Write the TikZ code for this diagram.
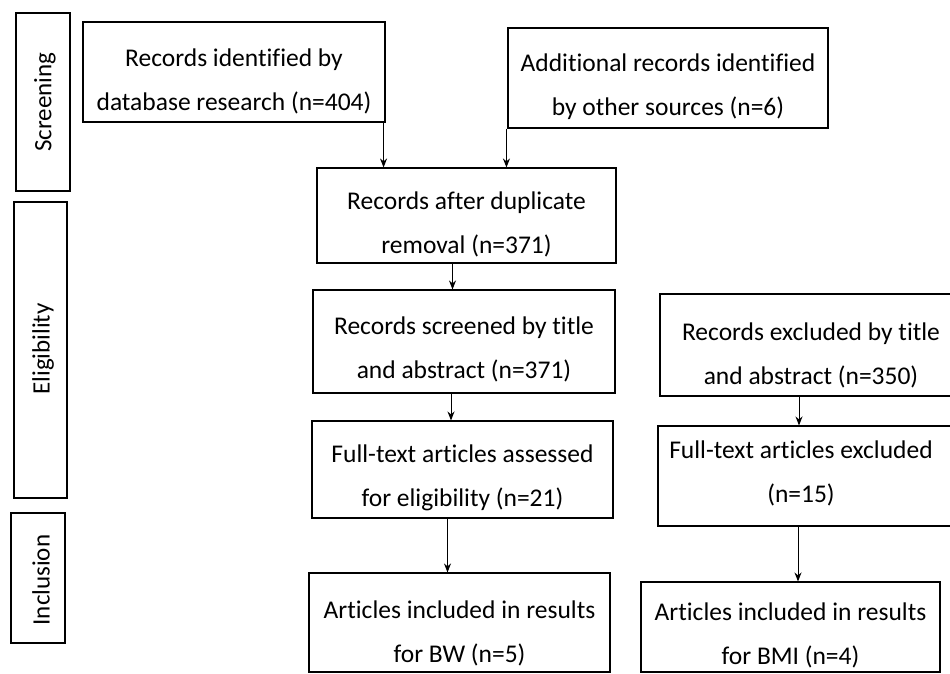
\documentclass[tikz,border=0pt]{standalone}
\usepackage{fontspec}
\setmainfont[Ligatures={NoCommon}]{Carlito}
\usetikzlibrary{arrows.meta}
\tikzset{
  box/.style={draw=black, line width=1.1pt, inner sep=0pt},
  tx/.style={inner sep=0pt, align=center, font=\fontsize{25.5}{44}\selectfont},
  side/.style={draw=black, line width=1.1pt, inner sep=0pt},
  sidetext/.style={rotate=90, inner sep=0pt, font=\fontsize{25}{28}\selectfont},
  arr/.style={line width=1pt, -{Stealth[length=9pt,width=7pt]}}
}
\begin{document}
\begin{tikzpicture}[x=1pt,y=-1pt]
\path[use as bounding box] (0,0) rectangle (950,674);
\clip (0,0) rectangle (950,674);
\fill[white] (0,0) rectangle (950,674);
% side boxes
\node[side, minimum width=54, minimum height=178] (s1) at (43,102) {};
\node[sidetext] (s1t) at (45,102) {Screening};
\node[side, minimum width=53, minimum height=296] (s2) at (40.5,350) {};
\node[sidetext] (s2t) at (43,349) {Eligibility};
\node[side, minimum width=54, minimum height=130] (s3) at (38,578) {};
\node[sidetext] (s3t) at (41,580) {Inclusion};
% main boxes
\node[box, minimum width=302, minimum height=100] (A) at (234,72) {};
\node[tx] (At) at (234,81.5) {Records identified by\\database research (n=404)};
\node[box, minimum width=320, minimum height=100] (B) at (668,78) {};
\node[tx] (Bt) at (668,86.5) {Additional records identified\\by other sources (n=6)};
\node[box, minimum width=299, minimum height=95] (C) at (466.5,215.5) {};
\node[tx] (Ct) at (466.5,224) {Records after duplicate\\removal (n=371)};
\node[box, minimum width=302, minimum height=103] (D) at (464,341.5) {};
\node[tx] (Dt) at (464,349) {Records screened by title\\and abstract (n=371)};
\node[box, minimum width=301, minimum height=97] (E) at (462.5,469.5) {};
\node[tx] (Et) at (462.5,478) {Full-text articles assessed\\for eligibility (n=21)};
\node[box, minimum width=301, minimum height=99] (F) at (459.5,622.5) {};
\node[tx] (Ft) at (459.5,633) {Articles included in results\\for BW (n=5)};
\node[box, minimum width=302, minimum height=102] (G) at (811,345) {};
\node[tx] (Gt) at (811,355.5) {Records excluded by title\\and abstract (n=350)};
\node[box, minimum width=304, minimum height=100] (H) at (810,476) {};
\node[tx] (Ht) at (801,473.5) {Full-text articles excluded\\(n=15)};
\node[box, minimum width=299, minimum height=90] (I) at (790.5,627) {};
\node[tx] (It) at (790.5,635.5) {Articles included in results\\for BMI (n=4)};
% arrows
\draw[arr] ([xshift=-2pt]A.south east) -- ([xshift=-2pt]A.south east |- C.north);
\draw[arr] ([xshift=-1pt]B.south west) -- ([xshift=-1pt]B.south west |- C.north);
\draw[arr] ([xshift=-14pt]C.south) -- ([xshift=-14pt]C.south |- D.north);
\draw[arr] ([xshift=-13pt]D.south) -- ([xshift=-13pt]D.south |- E.north);
\draw[arr] ([xshift=-15pt]E.south) -- ([xshift=-15pt]E.south |- F.north);
\draw[arr] ([xshift=-12pt]G.south) -- ([xshift=-12pt]G.south |- H.north);
\draw[arr] ([xshift=-12pt]H.south) -- ([xshift=-12pt]H.south |- I.north);
\end{tikzpicture}
\end{document}
